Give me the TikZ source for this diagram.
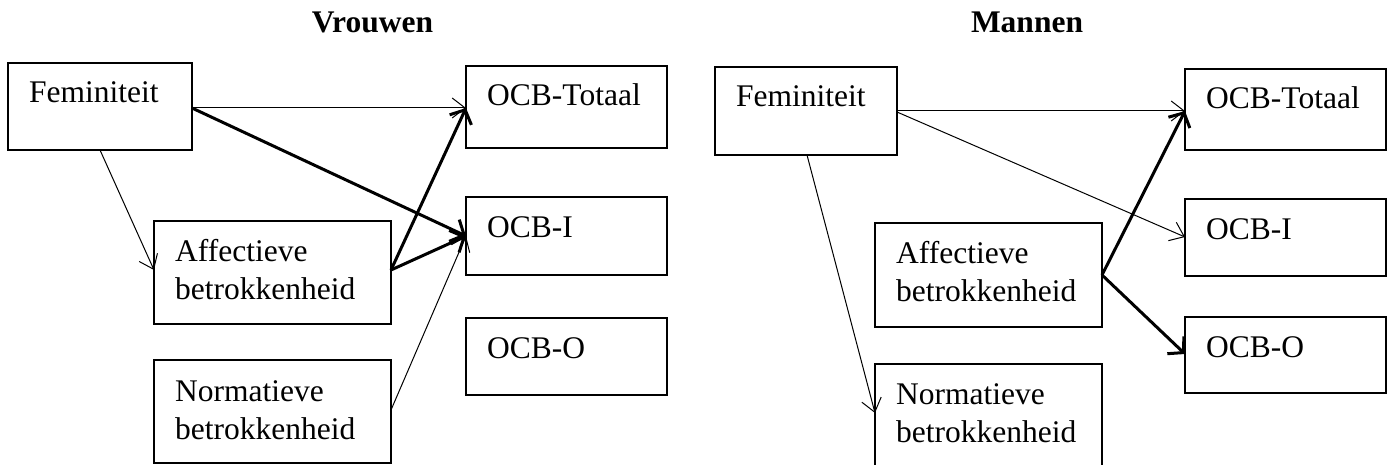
\documentclass[tikz,border=0pt]{standalone}
\usepackage{fontspec}
\setmainfont{Liberation Serif}
\usetikzlibrary{arrows.meta,calc}
\begin{document}
\begin{tikzpicture}[x=1pt,y=-1pt,
  box/.style={draw, line width=2.8pt, rectangle, inner sep=0pt, outer sep=0pt, anchor=north west},
  lbl/.style={font=\fontsize{31.5}{38}\selectfont, inner sep=0pt, anchor=base west, align=left},
  thinarr/.style={line width=1pt, -{Straight Barb[length=13pt,width=20pt]}},
  thickarr/.style={line width=3pt, -{Straight Barb[length=11pt,width=24pt]}},
  ttl/.style={font=\fontsize{31.5}{38}\selectfont\bfseries, inner sep=0pt, anchor=base}]
\clip (0,0) rectangle (1389,465);
% titles
\node[ttl] (tv) at (372.5,33) {Vrouwen};
\node[ttl] (tm) at (1027,33) {Mannen};
% left panel boxes
\node[box, minimum width=184pt, minimum height=87pt] (fem) at (8,63) {};
\node[box, minimum width=237pt, minimum height=103pt] (aff) at (154,221) {};
\node[box, minimum width=237pt, minimum height=103pt] (nor) at (154,360) {};
\node[box, minimum width=201pt, minimum height=82pt] (tot) at (466,66) {};
\node[box, minimum width=201pt, minimum height=78pt] (oi) at (466,197) {};
\node[box, minimum width=201pt, minimum height=77pt] (oo) at (466,318) {};
\node[lbl] (femt) at ($(fem.north west)+(21,40)$) {Feminiteit};
\node[lbl] (afft) at ($(aff.north west)+(21,78)$) {Affectieve\\betrokkenheid};
\node[lbl] (nort) at ($(nor.north west)+(21,79)$) {Normatieve\\betrokkenheid};
\node[lbl] (tott) at ($(tot.north west)+(21,40)$) {OCB-Totaal};
\node[lbl] (oit) at ($(oi.north west)+(21,40)$) {OCB-I};
\node[lbl] (oot) at ($(oo.north west)+(21,40)$) {OCB-O};
% left arrows
\draw[thinarr] ([yshift=-45pt]fem.north east) -- ([yshift=-42pt]tot.north west);
\draw[thickarr] ([yshift=-45pt]fem.north east) -- ([yshift=-39pt]oi.north west);
\draw[thinarr] ([xshift=92pt]fem.south west) -- ([yshift=-49pt]aff.north west);
\draw[thickarr] ([yshift=-49pt]aff.north east) -- ([yshift=-42pt]tot.north west);
\draw[thickarr] ([yshift=-49pt]aff.north east) -- ([yshift=-39pt]oi.north west);
\draw[thinarr] ([yshift=-50pt]nor.north east) -- ([yshift=-39pt]oi.north west);
% right panel boxes
\node[box, minimum width=182pt, minimum height=88pt] (fem2) at (715,67) {};
\node[box, minimum width=227pt, minimum height=104pt] (aff2) at (875,223) {};
\node[box, minimum width=227pt, minimum height=105pt] (nor2) at (875,364) {};
\node[box, minimum width=201pt, minimum height=81pt] (tot2) at (1185,69) {};
\node[box, minimum width=201pt, minimum height=77pt] (oi2) at (1185,199) {};
\node[box, minimum width=201pt, minimum height=76pt] (oo2) at (1185,317) {};
\node[lbl] (femt2) at ($(fem2.north west)+(21,40)$) {Feminiteit};
\node[lbl] (afft2) at ($(aff2.north west)+(21,78)$) {Affectieve\\betrokkenheid};
\node[lbl] (nort2) at ($(nor2.north west)+(21,78)$) {Normatieve\\betrokkenheid};
\node[lbl] (tott2) at ($(tot2.north west)+(21,40)$) {OCB-Totaal};
\node[lbl] (oit2) at ($(oi2.north west)+(21,40)$) {OCB-I};
\node[lbl] (oot2) at ($(oo2.north west)+(21,40)$) {OCB-O};
% right arrows
\draw[thinarr] ([yshift=-44pt]fem2.north east) -- ([yshift=-42pt]tot2.north west);
\draw[thinarr] ([yshift=-45pt]fem2.north east) -- ([yshift=-38pt]oi2.north west);
\draw[thinarr] ([xshift=92pt]fem2.south west) -- ([yshift=-49pt]nor2.north west);
\draw[thickarr] ([yshift=-52pt]aff2.north east) -- ([yshift=-42pt]tot2.north west);
\draw[thickarr] ([yshift=-52pt]aff2.north east) -- ([yshift=-37pt]oo2.north west);
\end{tikzpicture}
\end{document}
